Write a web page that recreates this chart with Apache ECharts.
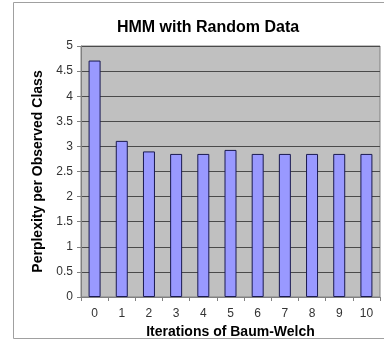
<!DOCTYPE html>
<html><head><meta charset="utf-8">
<script src="https://cdn.jsdelivr.net/npm/echarts@6/dist/echarts.min.js"></script>
<style>html,body{margin:0;padding:0;background:#fff}#c{width:384px;height:341px}</style>
</head><body><div id="c"></div>
<script>
const categories = ['0','1','2','3','4','5','6','7','8','9','10'];
const perplexity = [4.71, 3.11, 2.90, 2.85, 2.85, 2.93, 2.85, 2.85, 2.85, 2.85, 2.85];
const yTicks = {min: 0, max: 5, interval: 0.5};
const chart = echarts.init(document.getElementById('c'), null, {renderer: 'canvas'});
const font = 'Arial, "Liberation Sans", sans-serif';
chart.setOption({
  animation: false,
  backgroundColor: '#fff',
  graphic: [{type: 'rect', shape: {x: 13.5, y: 2.5, width: 380, height: 336}, style: {fill: 'none', stroke: '#a0a0a0', lineWidth: 1}, z: -1}],
  title: {text: 'HMM with Random Data', left: 203, textAlign: 'center', top: 15,
    textStyle: {fontFamily: font, fontSize: 16, fontWeight: 'bold', color: '#000'}},
  grid: {left: 81, right: 4, top: 46, bottom: 44, show: true, outerBoundsMode: 'none', containLabel: false,
    backgroundColor: '#c0c0c0', borderColor: '#808080', borderWidth: 1},
  xAxis: {type: 'category', data: categories,
    name: 'Iterations of Baum-Welch', nameLocation: 'middle', nameGap: 26,
    nameTextStyle: {fontFamily: font, fontSize: 14, fontWeight: 'bold', color: '#000'},
    axisLine: {lineStyle: {color: '#808080'}},
    axisTick: {show: true, alignWithLabel: false, length: 4, lineStyle: {color: '#808080'}},
    axisLabel: {fontFamily: font, fontSize: 12, color: '#333', margin: 11}},
  yAxis: {type: 'value', min: yTicks.min, max: yTicks.max, interval: yTicks.interval,
    name: 'Perplexity per Observed Class', nameLocation: 'middle', nameGap: 31,
    nameTextStyle: {fontFamily: font, fontSize: 14, fontWeight: 'bold', color: '#000'},
    axisLine: {show: true, lineStyle: {color: '#808080'}},
    axisTick: {show: true, length: 4, lineStyle: {color: '#808080'}},
    axisLabel: {fontFamily: font, fontSize: 12, color: '#333', margin: 8},
    splitLine: {show: true, lineStyle: {color: '#4a4a4a', width: 1}}},
  series: [{type: 'bar', data: perplexity, barWidth: 12,
    itemStyle: {color: '#9999ff', borderColor: '#1a1a50', borderWidth: 1}}]
});
</script></body></html>
